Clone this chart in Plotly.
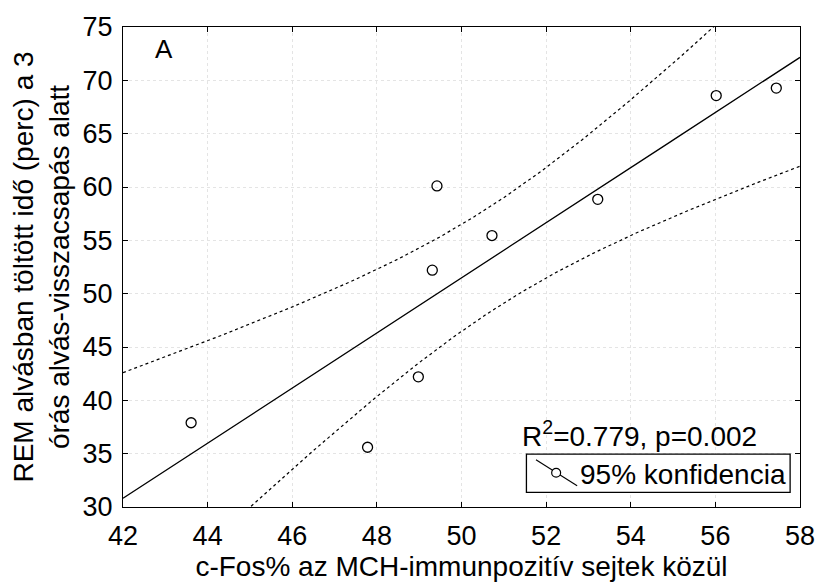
import numpy as np
import plotly.graph_objects as go

# Data
cfos_pct = [43.61, 47.78, 48.98, 49.31, 49.42, 50.72, 53.22, 56.02, 57.44]
rem_minutes = [37.9, 35.6, 42.2, 52.2, 60.1, 55.45, 58.84, 68.57, 69.27]
x_ticks = [42, 44, 46, 48, 50, 52, 54, 56, 58]
y_ticks = [30, 35, 40, 45, 50, 55, 60, 65, 70, 75]
stats_text = "R<sup>2</sup>=0.779, p=0.002"
panel_label = "A"
legend_label = "95% konfidencia"
x_title = "c-Fos% az MCH-immunpozitív sejtek közül"
y_title = "REM alvásban töltött idő (perc) a 3<br>órás alvás-visszacsapás alatt"

# Linear regression with 95% confidence band of the mean
x = np.array(cfos_pct)
y = np.array(rem_minutes)
n = len(x)
slope, intercept = np.polyfit(x, y, 1)
xs = np.linspace(x_ticks[0], x_ticks[-1], 200)
ys = intercept + slope * xs
resid = y - (intercept + slope * x)
s = np.sqrt(np.sum(resid ** 2) / (n - 2))
sxx = np.sum((x - x.mean()) ** 2)
t_crit = 2.3646  # t(0.975, df=7)
half = t_crit * s * np.sqrt(1.0 / n + (xs - x.mean()) ** 2 / sxx)

FONT = "Liberation Sans, Arial, sans-serif"
fig = go.Figure()
for band in (ys + half, ys - half):
    fig.add_trace(go.Scatter(x=xs, y=band, mode="lines",
                             line=dict(color="black", width=1.2, dash="dot"),
                             showlegend=False, hoverinfo="skip"))
fig.add_trace(go.Scatter(x=xs, y=ys, mode="lines",
                         line=dict(color="black", width=1.3),
                         showlegend=False))
fig.add_trace(go.Scatter(x=cfos_pct, y=rem_minutes, mode="markers",
                         marker=dict(symbol="circle-open", size=10,
                                     color="black", line=dict(width=1.3)),
                         showlegend=False))

axis_common = dict(
    showline=True, linecolor="black", linewidth=1.3, mirror="ticks",
    ticks="inside", ticklen=5, tickcolor="black",
    showgrid=True, gridcolor="#e4e4e4", griddash="dot", gridwidth=1,
    zeroline=False, tickfont=dict(family=FONT, size=27, color="black"),
)
fig.update_xaxes(range=[42, 58], tickvals=x_ticks, ticklabelstandoff=4,
                 title=dict(text=x_title,
                            font=dict(family=FONT, size=28, color="black"),
                            standoff=6),
                 **axis_common)
fig.update_yaxes(range=[30, 75], tickvals=y_ticks, ticklabelstandoff=4,
                 title=dict(text=y_title,
                            font=dict(family=FONT, size=28, color="black"),
                            standoff=4),
                 **axis_common)

# Panel label and statistics
fig.add_annotation(x=0.044, y=0.99, xref="paper", yref="paper",
                   text=panel_label, showarrow=False,
                   xanchor="left", yanchor="top",
                   font=dict(family=FONT, size=26, color="black"))
fig.add_annotation(x=0.7628, y=0.153, xref="paper", yref="paper",
                   text=stats_text, showarrow=False,
                   xanchor="center", yanchor="middle",
                   font=dict(family=FONT, size=28, color="black"))

# Legend box (diagonal line + open circle symbol, as in the reference)
fig.add_shape(type="rect", xref="paper", yref="paper",
              x0=0.5959, x1=0.9854, y0=0.0305, y1=0.110,
              line=dict(color="black", width=1.3), fillcolor="white", layer="above")
fig.add_shape(type="line", xref="paper", yref="paper",
              x0=0.6100, y0=0.0984, x1=0.6708, y1=0.0442,
              line=dict(color="black", width=1.1), layer="above")
fig.add_shape(type="circle", xref="paper", yref="paper",
              x0=0.6332, x1=0.6464, y0=0.0621, y1=0.0804,
              line=dict(color="black", width=1.2), fillcolor="white", layer="above")
fig.add_annotation(x=0.983, y=0.0672, xref="paper", yref="paper",
                   text=legend_label, showarrow=False,
                   xanchor="right", yanchor="middle",
                   font=dict(family=FONT, size=28, color="black"))

fig.update_layout(
    width=827, height=588,
    margin=dict(l=123, r=21, t=19, b=78),
    paper_bgcolor="white", plot_bgcolor="white",
    font=dict(family=FONT, color="black"),
    showlegend=False,
)

fig.write_html("out.html")
